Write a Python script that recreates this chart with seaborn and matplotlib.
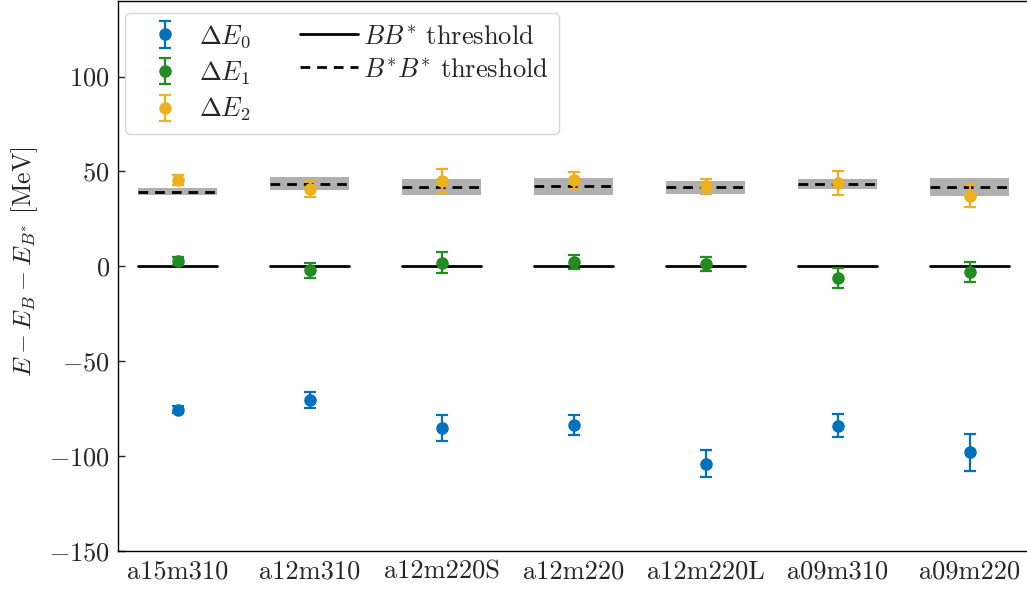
import numpy as np
import matplotlib
matplotlib.use("Agg")
import matplotlib.pyplot as plt
import seaborn as sns

ensembles = ["a15m310", "a12m310", "a12m220S", "a12m220", "a12m220L", "a09m310", "a09m220"]

dE0 = [-75.5, -70.5, -85.0, -83.5, -104.0, -84.0, -98.0]
dE0_err = [2.0, 4.3, 6.8, 5.4, 7.0, 6.0, 9.7]

dE1 = [2.8, -2.0, 1.8, 2.3, 1.2, -6.3, -2.8]
dE1_err = [2.3, 4.0, 5.5, 3.9, 3.8, 5.2, 5.3]

dE2 = [45.5, 40.7, 45.2, 45.3, 42.2, 44.0, 37.0]
dE2_err = [2.4, 4.2, 6.2, 4.3, 4.0, 6.3, 5.8]

bb_threshold = [0.0, 0.0, 0.0, 0.0, 0.0, 0.0, 0.0]
bsbs_threshold = [39.3, 43.5, 42.0, 42.1, 41.6, 43.3, 42.0]
bsbs_threshold_err = [1.9, 3.3, 4.2, 4.5, 3.3, 2.5, 4.7]

series_labels = [r"$\Delta E_0$", r"$\Delta E_1$", r"$\Delta E_2$"]
series_colors = ["#0072BD", "#228B22", "#EDB120"]
threshold_labels = [r"$BB^{*}$ threshold", r"$B^{*}B^{*}$ threshold"]

sns.set_theme(style="ticks")
plt.rcParams.update({
    "font.family": "serif",
    "font.serif": ["cmr10", "DejaVu Serif"],
    "mathtext.fontset": "cm",
    "axes.formatter.use_mathtext": True,
    "axes.unicode_minus": True,
    "font.size": 19,
    "axes.edgecolor": "black",
    "axes.linewidth": 1.0,
})

fig = plt.figure(figsize=(10.27, 5.90), dpi=100)
ax = fig.add_axes([0.115, 0.066, 0.887, 0.933])

x = np.arange(len(ensembles))
hw = 0.3
dash = (3.5, 2.5)

# threshold bands and lines for each ensemble
for xi, t, bt, be in zip(x, bb_threshold, bsbs_threshold, bsbs_threshold_err):
    ax.fill_between([xi - hw, xi + hw], bt - be, bt + be, color="#b0b0b0", lw=0, zorder=1)
    ax.plot([xi - hw, xi + hw], [t, t], color="black", lw=2.0, zorder=2)
    ax.plot([xi - hw, xi + hw], [bt, bt], color="black", lw=2.0, ls="--", dashes=dash, zorder=2)

bb_handle, = ax.plot([], [], color="black", lw=2.0)
bsbs_handle, = ax.plot([], [], color="black", lw=2.0, ls="--", dashes=dash)

# energy levels with uncertainties
handles = []
for vals, errs, col in zip([dE0, dE1, dE2], [dE0_err, dE1_err, dE2_err], series_colors):
    h = ax.errorbar(x, vals, yerr=errs, fmt="o", color=col, ms=8, elinewidth=1.6,
                    capsize=4.5, capthick=1.6, zorder=3)
    sns.scatterplot(x=x, y=vals, color=col, s=64, edgecolor=col, linewidth=0,
                    ax=ax, zorder=4, legend=False)
    handles.append(h)

ax.set_xlim(-0.45, 6.45)
ax.set_ylim(-150, 140)
ax.set_xticks(x)
ax.set_xticklabels(ensembles)
ax.set_yticks([-150, -100, -50, 0, 50, 100])
ax.tick_params(axis="y", direction="in", length=5, width=1, labelsize=19, pad=6)
ax.tick_params(axis="x", length=0, labelsize=19, pad=6)
ax.set_ylabel(r"$E - E_B - E_{B^{*}}$ [MeV]", fontsize=18.5)
ax.yaxis.set_label_coords(-0.086, 0.525)

ax.legend(handles=handles + [bb_handle, bsbs_handle],
          labels=series_labels + threshold_labels,
          ncol=2, loc="upper left", fontsize=19, frameon=True, framealpha=0.8,
          edgecolor="#cccccc", fancybox=True, handlelength=2.2, columnspacing=1.85,
          labelspacing=0.35, borderpad=0.4, handletextpad=0.2, borderaxespad=0.0,
          bbox_to_anchor=(0.008, 0.978))

fig.savefig("out.png", dpi=100)
